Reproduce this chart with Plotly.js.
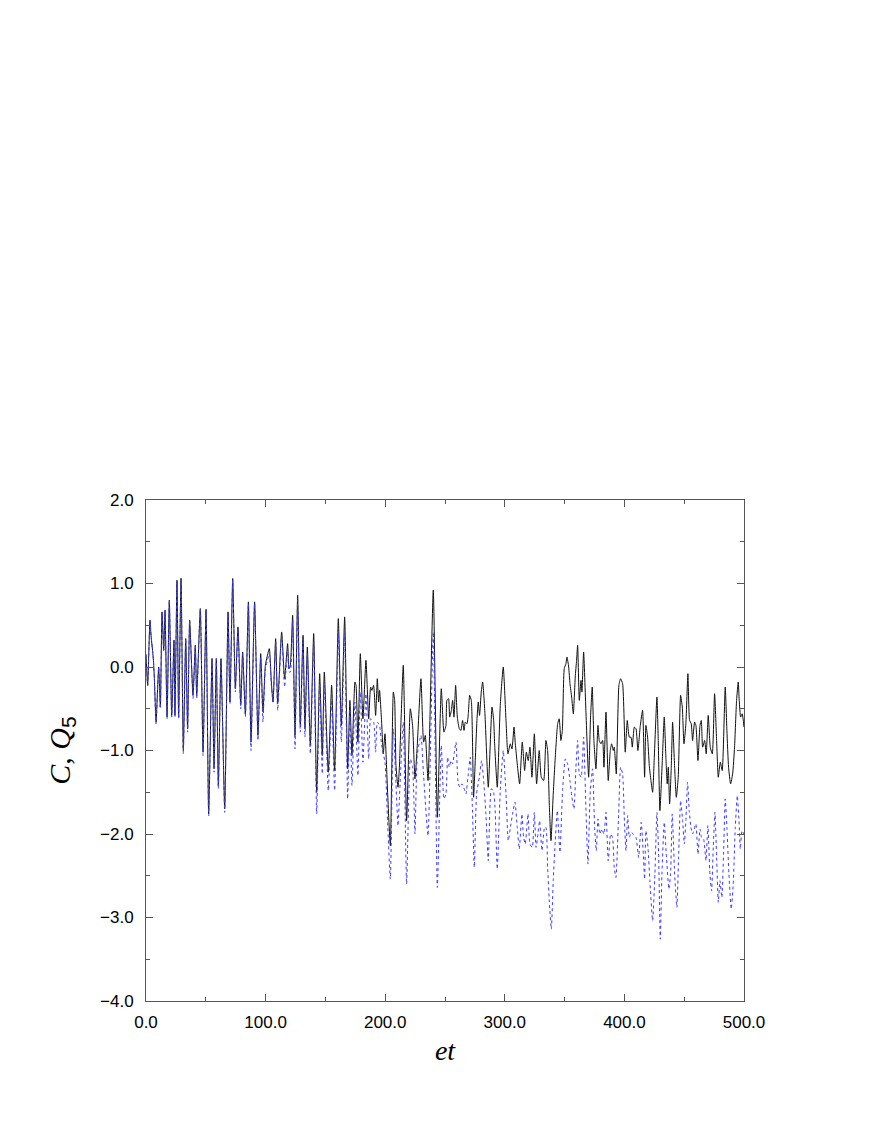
<!DOCTYPE html>
<html>
<head>
<meta charset="utf-8">
<script src="https://cdn.plot.ly/plotly-3.0.1.min.js"></script>
<style>html,body{margin:0;padding:0;background:#fff;}</style>
</head>
<body>
<div id="chart" style="width:872px;height:1128px;"></div>
<script>
// C (solid black line): time et and value
const cT = [0,1.4,3.3,4.2,6.1,7.0,8.4,10.6,12.0,13.4,14.8,15.9,17.6,19.5,21.5,23.4,24.2,25.9,27.3,29.3,31.2,33.2,34.8,36.5,39.3,41.2,42.4,45.4,47.7,50.2,52.4,55.2,56.9,58.8,60.5,62.7,65.8,68.6,70.2,72.5,74.7,76.9,79.2,80.8,83.1,
85.6,87.8,90.8,93.6,95.9,97.8,99.8,101.2,103.1,104.8,106.2,108.4,110.1,113.4,115.9,118.4,119.6,120.7,122.6,124.6,126.8,129.0,131.3,132.9,134.9,137.4,140.2,142.7,145.2,147.4,149.1,152.4,155.2,157.7,160.8,163.3,166.1,
168.6,170.5,172.2,174.7,175.6,177.2,179.2,181.4,183.9,186.2,187.8,188.9,190.3,192.0,193.4,194.5,195.3,197.0,198.4,199.8,202.0,204.3,206.8,207.9,209.0,210.7,211.8,215.1,217.9,221.0,222.9,224.9,226.8,229.9,232.1,233.5,235.8,240.2,243.6,246.9,249.1,250.8,
251.6,253.0,253.9,255.3,256.4,257.5,258.9,260.3,262.0,263.3,264.7,265.9,267.0,268.4,269.5,270.6,272.0,273.9,275.3,276.7,277.8,278.9,280.3,281.5,283.4,286.2,289.3,290.7,291.5,293.7,296.2,298.7,301.0,302.6,304.6,306.0,307.7,308.8,310.4,312.4,314.6,316.6,318.0,319.6,321.0,322.7,324.7,326.6,328.8,330.5,332.5,334.4,
335.8,337.2,338.6,340.5,342.2,344.2,345.5,346.9,348.1,349.7,351.1,352.0,353.4,354.5,355.9,357.3,358.9,360.0,360.9,362.3,363.7,364.5,365.9,367.8,370.1,371.7,373.1,374.5,376.2,377.9,379.0,380.4,381.8,382.9,384.6,386.5,388.2,389.3,390.7,391.5,393.2,395.4,396.8,398.5,400.7,402.4,404.1,405.5,406.6,408.3,409.7,411.3,413.3,415.2,416.9,418.0,
419.4,420.8,422.2,423.6,425.0,427.2,428.3,429.7,431.7,433.3,434.7,435.8,436.7,437.8,439.2,440.3,442.0,443.4,445.0,447.0,448.4,449.8,451.4,453.1,454.5,455.9,457.0,458.7,459.8,461.5,463.2,464.3,465.4,467.1,468.4,470.1,471.8,473.5,475.4,477.1,478.5,480.2,481.8,484.3,485.7,487.1,488.8,490.5,492.1,493.8,495.2,496.0,497.2,498.5,500.0];
const cV = [0.15,-0.22,0.56,0.38,0.1,-0.14,-0.66,0.0,-0.48,0.66,0.2,0.68,-0.6,0.8,-0.58,0.32,-0.58,1.04,-0.6,1.06,-1.0,0.34,-0.74,0.56,-0.34,0.26,-0.34,0.7,-1.02,0.69,-1.76,0.1,-1.22,0.1,-1.42,0.1,-1.7,0.66,-0.42,1.06,-0.26,0.48,-0.46,0.18,-0.56,
0.78,-0.9,0.78,-0.82,0.16,-0.54,0.02,0.12,0.22,-0.18,-0.42,0.34,-0.44,0.42,-0.14,0.28,-0.02,0.02,0.62,-0.82,0.86,-0.7,0.38,-0.74,0.24,-0.94,0.4,-1.5,-0.08,-1.06,-0.06,-1.26,-0.22,-1.24,0.58,-0.7,0.6,
-1.22,-0.4,-1.06,-0.18,-0.22,-0.9,0.16,-0.62,0.08,-0.62,-0.24,-0.28,-0.22,-0.58,-0.14,-0.42,-0.28,-0.66,-1.04,-0.8,-1.5,-2.14,-0.3,-0.4,-1.18,-1.44,-1.22,0.02,-1.84,-0.5,-0.7,-1.34,-0.94,-0.14,-0.9,-0.82,-1.36,0.92,-1.8,-0.26,-0.78,-0.7,
-0.4,-0.38,-0.6,-0.52,-0.4,-0.6,-0.22,-0.6,-0.74,-0.76,-0.64,-0.76,-0.66,-0.68,-0.56,-0.34,-0.4,-1.56,-1.12,-0.64,-0.42,-0.58,-0.3,-0.18,-0.56,-1.44,-0.48,-0.64,-0.92,-1.44,-0.46,0.0,-0.64,-1.04,-0.92,-0.98,-0.72,-0.92,-1.16,-1.4,-0.9,-1.24,-1.02,-1.12,-0.96,-1.32,-0.8,-1.4,-1.0,-1.32,-1.36,-0.88,
-1.0,-1.64,-2.08,-1.52,-1.08,-0.68,-0.62,-0.88,-0.76,-0.02,0.04,0.12,0.0,-0.2,-0.36,-0.56,-0.12,0.08,0.26,-0.4,-0.16,-0.3,0.18,-0.52,-1.32,-0.6,-0.24,-0.88,-1.22,-0.7,-0.88,-0.92,-0.88,-1.2,-0.54,-1.36,-1.0,-0.92,-1.0,-0.96,-1.28,-0.22,-0.14,-0.2,-1.02,-0.64,-0.84,-0.84,-0.96,-0.72,-0.74,-1.0,-0.7,-0.52,-1.32,-0.7,
-0.84,-1.18,-1.36,-1.5,-1.08,-0.36,-0.88,-1.72,-1.12,-0.6,-1.08,-1.4,-1.2,-1.64,-1.2,-0.66,-1.2,-1.56,-1.32,-0.34,-0.48,-0.92,-0.68,-0.08,-0.64,-0.68,-0.88,-0.66,-0.7,-1.12,-0.7,-0.64,-0.96,-0.88,-1.04,-0.58,-0.96,-1.04,-0.32,-0.88,-1.32,-1.14,-1.24,-0.24,-0.76,-1.2,-1.4,-1.28,-0.96,-0.4,-0.18,-0.4,-0.6,-0.56,-0.72];

// Q5 (dotted blue line): time et and value
const qT = [0,1.4,3.3,4.2,6.1,7.0,8.4,10.6,12.0,13.4,14.8,15.9,17.6,19.5,21.5,23.4,24.2,25.9,27.3,29.3,31.2,33.2,34.8,36.5,39.3,41.2,42.4,45.4,47.7,50.2,52.4,55.2,56.9,58.8,60.5,62.7,65.8,68.6,70.2,72.5,74.7,76.9,79.2,80.8,83.1,
85.6,87.8,90.8,93.6,95.9,97.8,99.8,101.2,103.1,104.8,106.2,108.4,110.1,113.4,115.9,118.4,119.6,120.7,122.6,124.6,126.8,129.0,131.3,132.9,134.9,137.4,140.2,142.7,145.2,147.4,149.1,152.4,155.2,157.7,160.8,163.3,166.1,
168.6,170.5,172.2,174.7,177.2,179.2,181.4,183.9,186.2,187.8,190.3,192.0,193.4,195.3,197.0,199.8,202.0,204.3,206.8,209.0,210.7,211.8,215.1,217.9,221.0,222.9,224.9,226.8,229.9,232.1,235.8,240.2,243.6,246.9,249.1,250.8,
252.2,253.6,255.0,256.4,257.8,259.2,261.1,262.8,264.2,266.1,267.5,269.5,271.1,272.8,274.5,276.4,278.7,280.6,282.3,284.2,286.2,288.7,290.4,291.8,293.7,296.2,298.7,301.0,302.9,305.1,306.5,308.5,310.4,312.1,314.3,315.7,317.1,319.4,321.0,323.0,324.7,326.1,327.7,329.1,331.1,333.3,
334.4,335.8,337.2,338.9,340.5,342.2,343.9,346.1,348.3,350.6,352.5,354.5,356.1,357.8,359.5,360.9,362.3,363.9,365.9,367.8,369.5,371.5,373.4,375.1,376.5,377.9,379.5,381.2,382.9,384.6,386.5,388.5,390.1,391.5,392.9,395.2,396.8,398.5,399.9,401.3,402.7,404.1,405.8,407.4,409.7,411.9,414.1,415.8,416.9,
418.0,419.7,421.3,423.6,425.5,427.2,428.6,430.0,431.4,433.3,435.0,437.2,438.6,440.0,442.0,443.9,445.3,447.0,448.7,450.1,451.4,452.8,454.2,455.6,457.0,458.4,459.8,461.5,463.2,464.5,466.2,468.2,469.8,471.5,472.9,474.3,475.7,477.1,478.5,479.9,481.5,482.9,484.3,485.7,487.4,489.3,491.0,492.7,494.4,495.8,496.9,498.3,500.0];
const qV = [0.15,-0.22,0.56,0.38,0.1,-0.14,-0.68,0.0,-0.5,0.66,0.2,0.68,-0.62,0.8,-0.6,0.32,-0.6,1.04,-0.62,1.06,-1.04,0.34,-0.78,0.56,-0.38,0.26,-0.38,0.7,-1.06,0.69,-1.78,0.1,-1.26,0.1,-1.46,0.1,-1.74,0.66,-0.44,1.04,-0.3,0.46,-0.5,0.16,-0.6,
0.76,-1.0,0.76,-0.88,0.12,-0.66,-0.02,0.06,0.16,-0.22,-0.42,0.3,-0.52,0.38,-0.24,0.22,-0.06,-0.06,0.56,-0.98,0.8,-0.78,0.3,-0.84,0.16,-1.04,0.3,-1.76,-0.2,-1.28,-0.2,-1.48,-0.4,-1.48,0.4,-0.9,0.4,
-1.58,-0.5,-1.42,-0.42,-1.3,-0.3,-1.14,-0.32,-1.1,-0.62,-0.66,-1.02,-0.66,-0.7,-0.94,-1.14,-1.86,-2.54,-0.74,-1.4,-1.9,-1.6,-0.66,-2.6,-1.1,-1.2,-2.0,-1.06,-0.82,-1.3,-2.02,0.42,-2.64,-0.94,-1.58,-1.52,
-1.08,-1.2,-1.12,-1.16,-1.02,-0.9,-1.4,-1.44,-1.4,-1.46,-1.52,-1.28,-1.08,-1.64,-2.4,-1.52,-1.32,-1.12,-1.36,-1.76,-2.32,-1.46,-1.48,-1.68,-2.42,-1.48,-1.0,-1.52,-2.08,-1.88,-1.76,-1.62,-1.92,-2.18,-1.76,-2.04,-2.12,-1.76,-2.12,-2.16,-1.74,-2.16,-2.0,-1.84,-2.2,-1.92,
-1.92,-2.4,-2.8,-3.14,-2.56,-2.08,-1.72,-2.22,-1.48,-1.1,-1.16,-1.36,-1.56,-1.7,-1.2,-0.88,-1.28,-1.32,-0.84,-1.68,-2.36,-1.48,-1.22,-1.92,-2.2,-1.82,-2.0,-1.94,-2.0,-1.74,-2.32,-2.0,-2.04,-2.4,-2.52,-1.76,-1.2,-1.28,-1.8,-2.2,-1.78,-2.04,-1.98,-2.0,-2.04,-2.28,-1.86,-2.24,-2.54,
-1.96,-2.16,-2.56,-3.04,-2.48,-1.74,-2.24,-3.26,-2.48,-1.86,-2.24,-2.66,-2.48,-1.76,-2.48,-2.88,-2.28,-1.6,-1.84,-2.12,-1.84,-1.38,-1.72,-1.92,-2.0,-1.94,-1.88,-2.24,-1.94,-2.04,-2.06,-2.32,-1.9,-2.48,-2.68,-2.16,-1.74,-2.28,-2.82,-2.56,-2.76,-2.24,-1.58,-1.92,-2.48,-2.9,-2.6,-1.92,-1.54,-1.84,-2.18,-1.96,-2.0];

const xTickVals = [0,100,200,300,400,500];
const yTickVals = [-4,-3,-2,-1,0,1,2];

const traces = [
  {x: cT, y: cV, type: 'scatter', mode: 'lines', name: 'C',
   line: {color: '#111111', width: 1, shape: 'spline', smoothing: 0.5}},
  {x: qT, y: qV, type: 'scatter', mode: 'lines', name: 'Q5',
   line: {color: '#3a3aff', width: 1, dash: 'dot', shape: 'spline', smoothing: 0.5}}
];

const axisCommon = {
  showgrid: false, zeroline: false, showline: true, linecolor: '#555', linewidth: 1,
  mirror: 'ticks', ticks: 'inside', ticklen: 7, tickwidth: 1, tickcolor: '#555',
  tickfont: {family: 'Liberation Sans, Arial, sans-serif', size: 17, color: '#000'},
  tickformat: '.1f'
};

const layout = {
  width: 872, height: 1128,
  margin: {l: 146, r: 128, t: 500, b: 127},
  paper_bgcolor: '#fff', plot_bgcolor: '#fff',
  showlegend: false,
  xaxis: Object.assign({}, axisCommon, {
    range: [0, 500], tickvals: xTickVals, ticklabelstandoff: 6,
    minor: {ticks: 'inside', ticklen: 4, tickcolor: '#555', tickwidth: 1, dtick: 50, tick0: 0},
    title: {text: '<i>et</i>', font: {family: 'Liberation Serif, Times New Roman, serif', size: 28, color: '#000'}, standoff: 8}
  }),
  yaxis: Object.assign({}, axisCommon, {
    range: [-4, 2], tickvals: yTickVals, ticklabelstandoff: 8,
    minor: {ticks: 'inside', ticklen: 4, tickcolor: '#555', tickwidth: 1, dtick: 0.5, tick0: 0},
    title: {text: '<i>C</i>, <i>Q</i><sub><span style="font-family:Liberation Sans">5</span></sub>', font: {family: 'Liberation Serif, Times New Roman, serif', size: 30, color: '#000'}, standoff: 20}
  })
};

Plotly.newPlot('chart', traces, layout, {staticPlot: true, displayModeBar: false});
</script>
</body>
</html>
